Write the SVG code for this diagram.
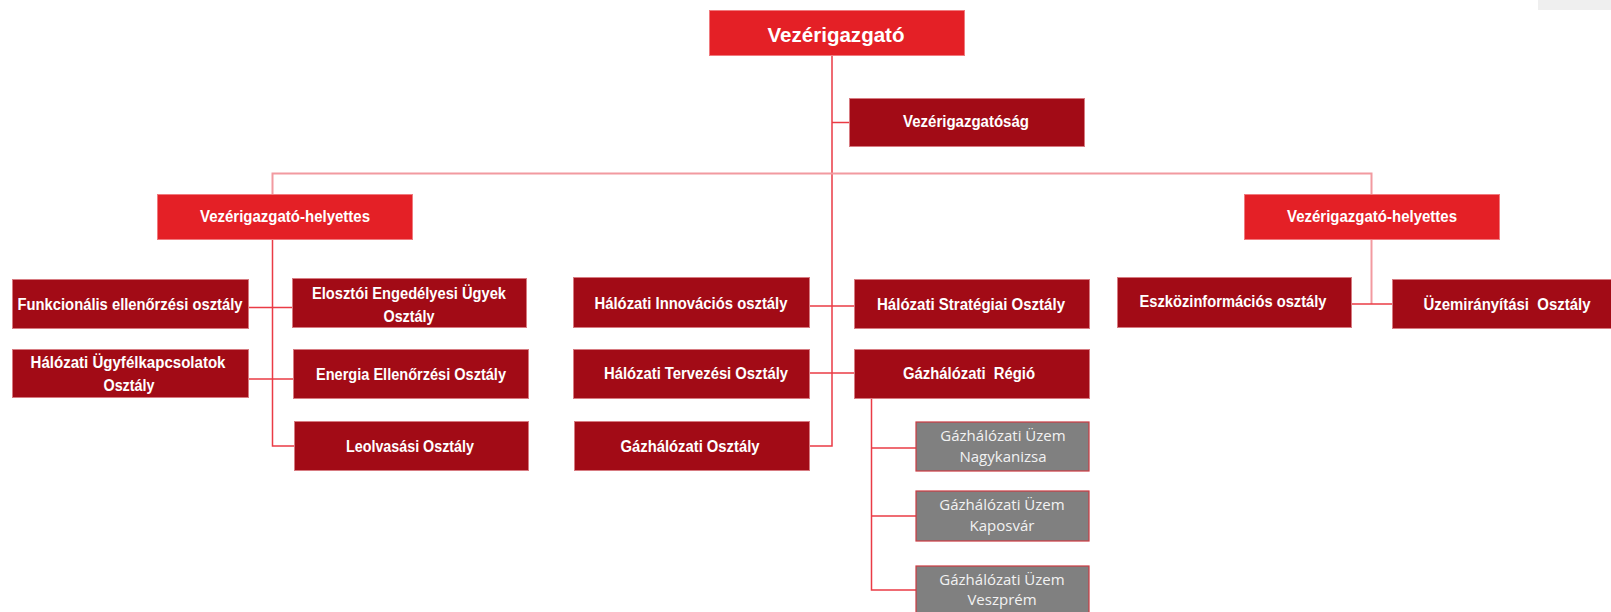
<svg xmlns="http://www.w3.org/2000/svg" width="1611" height="612" viewBox="0 0 1611 612">
<style>
.top{fill:#e42026;stroke:#f07a7e;stroke-width:1}
.dep{fill:#a20b16;stroke:#d77b81;stroke-width:1}
.plant{fill:#808080;stroke:#cc3a42;stroke-width:1.2}
.b{font-family:"Liberation Sans",Arial,sans-serif;font-weight:bold;font-size:16px;fill:#ffffff;text-anchor:middle}
.big{font-size:21px}
.r{font-family:"Open Sans","Noto Sans",sans-serif;font-size:15px;fill:#f2f2f2;text-anchor:middle}
.ln{fill:none;stroke:#ea3b45;stroke-width:1.5}
.lt{fill:none;stroke:#f29aa0;stroke-width:2}
</style>
<rect x="1538" y="0" width="73" height="10" fill="#efefef"/>
<g id="connectors">
<path class="ln" d="M832,56 V446 H810"/>
<path class="ln" d="M832,122.5 H849"/>
<path class="lt" d="M272.5,194 V173.5 H1371.5 V194"/>
<path class="ln" d="M272.5,240 V446 H294"/>
<path class="ln" d="M249,307.5 H292"/>
<path class="ln" d="M249,379 H293"/>
<path class="ln" d="M810,306 H854"/>
<path class="ln" d="M810,373 H854"/>
<path class="lt" d="M1371.5,240 V304"/>
<path class="ln" d="M1352,304 H1392"/>
<path class="ln" d="M871.5,399 V590 H916"/>
<path class="ln" d="M871.5,448 H916"/>
<path class="ln" d="M871.5,516 H916"/>
</g>
<g id="ceo"><rect class="top" x="709.5" y="10.5" width="255" height="45"/><text class="b big" x="836" y="42" textLength="137" lengthAdjust="spacingAndGlyphs">Vezérigazgató</text></g>
<g id="vezerigazgatosag"><rect class="dep" x="849.5" y="98.5" width="235" height="48"/><text class="b" x="966" y="127" textLength="126" lengthAdjust="spacingAndGlyphs">Vezérigazgatóság</text></g>
<g id="vh-left"><rect class="top" x="157.5" y="194.5" width="255" height="45"/><text class="b" x="285" y="222" textLength="170" lengthAdjust="spacingAndGlyphs">Vezérigazgató-helyettes</text></g>
<g id="vh-right"><rect class="top" x="1244.5" y="194.5" width="255" height="45"/><text class="b" x="1372" y="222" textLength="170" lengthAdjust="spacingAndGlyphs">Vezérigazgató-helyettes</text></g>
<g id="funkc"><rect class="dep" x="12.5" y="279.5" width="236" height="49"/><text class="b" x="130" y="310" textLength="225" lengthAdjust="spacingAndGlyphs">Funkcionális ellenőrzési osztály</text></g>
<g id="eloszt"><rect class="dep" x="292.5" y="278.5" width="234" height="49"/><text class="b" x="409" y="299" textLength="194" lengthAdjust="spacingAndGlyphs">Elosztói Engedélyesi Ügyek</text><text class="b" x="409" y="322" textLength="51" lengthAdjust="spacingAndGlyphs">Osztály</text></g>
<g id="ugyfel"><rect class="dep" x="12.5" y="349.5" width="236" height="48"/><text class="b" x="128" y="368" textLength="195" lengthAdjust="spacingAndGlyphs">Hálózati Ügyfélkapcsolatok</text><text class="b" x="129" y="391" textLength="51" lengthAdjust="spacingAndGlyphs">Osztály</text></g>
<g id="energia"><rect class="dep" x="293.5" y="349.5" width="235" height="49"/><text class="b" x="411" y="380" textLength="190" lengthAdjust="spacingAndGlyphs">Energia Ellenőrzési Osztály</text></g>
<g id="leolv"><rect class="dep" x="294.5" y="421.5" width="234" height="49"/><text class="b" x="410" y="452" textLength="128" lengthAdjust="spacingAndGlyphs">Leolvasási Osztály</text></g>
<g id="innov"><rect class="dep" x="573.5" y="277.5" width="236" height="50"/><text class="b" x="691" y="309" textLength="193" lengthAdjust="spacingAndGlyphs">Hálózati Innovációs osztály</text></g>
<g id="strat"><rect class="dep" x="854.5" y="279.5" width="235" height="49"/><text class="b" x="971" y="310" textLength="188" lengthAdjust="spacingAndGlyphs">Hálózati Stratégiai Osztály</text></g>
<g id="terv"><rect class="dep" x="573.5" y="349.5" width="236" height="49"/><text class="b" x="696" y="379" textLength="184" lengthAdjust="spacingAndGlyphs">Hálózati Tervezési Osztály</text></g>
<g id="regio"><rect class="dep" x="854.5" y="349.5" width="235" height="49"/><text class="b" x="969" y="379" textLength="132" lengthAdjust="spacingAndGlyphs" xml:space="preserve">Gázhálózati  Régió</text></g>
<g id="gazosztaly"><rect class="dep" x="574.5" y="421.5" width="235" height="49"/><text class="b" x="690" y="452" textLength="139" lengthAdjust="spacingAndGlyphs">Gázhálózati Osztály</text></g>
<g id="nagykanizsa"><rect class="plant" x="916" y="422" width="173" height="49"/><text class="r" x="1003" y="441">Gázhálózati Üzem</text><text class="r" x="1003" y="462">Nagykanizsa</text></g>
<g id="kaposvar"><rect class="plant" x="916" y="491" width="173" height="50"/><text class="r" x="1002" y="510">Gázhálózati Üzem</text><text class="r" x="1002" y="531">Kaposvár</text></g>
<g id="veszprem"><rect class="plant" x="916" y="566" width="173" height="50"/><text class="r" x="1002" y="585">Gázhálózati Üzem</text><text class="r" x="1002" y="605">Veszprém</text></g>
<g id="eszkoz"><rect class="dep" x="1117.5" y="277.5" width="234" height="50"/><text class="b" x="1233" y="307" textLength="187" lengthAdjust="spacingAndGlyphs">Eszközinformációs osztály</text></g>
<g id="uzemiranyitasi"><rect class="dep" x="1392.5" y="279.5" width="219" height="49"/><text class="b" x="1507" y="310" textLength="167" lengthAdjust="spacingAndGlyphs" xml:space="preserve">Üzemirányítási  Osztály</text></g>
</svg>
